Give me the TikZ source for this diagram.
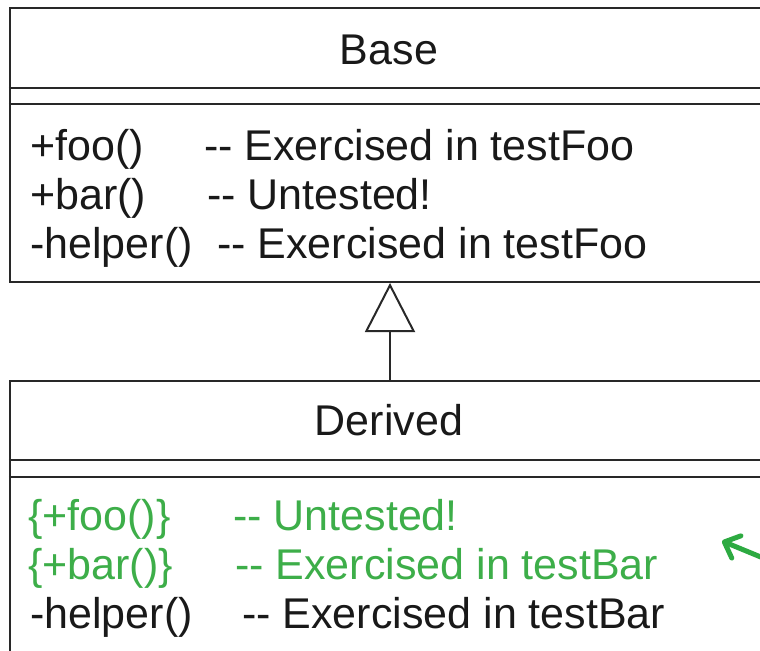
\documentclass[tikz,border=0pt]{standalone}
\usepackage{fontspec}
\setmainfont{Liberation Sans}
\usetikzlibrary{arrows.meta}
\definecolor{linegray}{RGB}{40,40,40}
\definecolor{notegreen}{RGB}{61,174,73}
\definecolor{arrowgreen}{RGB}{45,170,65}
\newcommand{\dashpair}{\mbox{-}\mbox{-}}
\begin{document}
\begin{tikzpicture}[x=1bp,y=-1bp,
  classbox/.style={draw=linegray, line width=2bp, minimum width=760bp, inner sep=0pt},
  boxline/.style={draw=linegray, line width=2bp},
  txt/.style={anchor=base west, inner sep=0pt, font=\fontsize{43bp}{49bp}\selectfont, text=black!90},
  title/.style={anchor=base, inner sep=0pt, font=\fontsize{43bp}{49bp}\selectfont, text=black!90},
  gtxt/.style={txt, text=notegreen},
  inherit/.style={draw=linegray, line width=2bp, -{Triangle[open, width=50bp, length=49bp, line width=2bp]}},
  notearrow/.style={draw=arrowgreen, line width=5bp, line cap=round, -{Straight Barb[length=13bp, width=24bp, line width=5bp, round]}}
]
\useasboundingbox (0,0) rectangle (760,651);
\clip (0,0) rectangle (760,651);
\fill[white] (0,0) rectangle (760,651);
% Base class
\node[classbox, minimum height=274bp] (base) at (390,145) {};
\node[title] (baseTitle) at (389,65) {Base};
\draw[boxline] (base.west |- 0,88) -- (base.east |- 0,88);
\draw[boxline] (base.west |- 0,104) -- (base.east |- 0,104);
\node[txt] (bFoo) at (30,160) {+foo()};
\node[txt] (bFooC) at (204,160) {\dashpair{} Exercised in testFoo};
\node[txt] (bBar) at (30,209) {+bar()};
\node[txt] (bBarC) at (207,209) {\dashpair{} Untested!};
\node[txt] (bHelp) at (30,258) {-helper()};
\node[txt] (bHelpC) at (217,258) {\dashpair{} Exercised in testFoo};
% Derived class
\node[classbox, minimum height=340bp] (derived) at (390,551) {};
\node[title] (derivedTitle) at (389,435) {Derived};
\draw[boxline] (derived.west |- 0,460) -- (derived.east |- 0,460);
\draw[boxline] (derived.west |- 0,477) -- (derived.east |- 0,477);
\node[gtxt] (dFoo) at (28,530) {\{+foo()\}};
\node[gtxt] (dFooC) at (233,530) {\dashpair{} Untested!};
\node[gtxt] (dBar) at (28,579) {\{+bar()\}};
\node[gtxt] (dBarC) at (235,579) {\dashpair{} Exercised in testBar};
\node[txt] (dHelp) at (30,628) {-helper()};
\node[txt] (dHelpC) at (242,628) {\dashpair{} Exercised in testBar};
% Inheritance
\draw[inherit] (derived.north) -- (base.south);
% Note arrow
\coordinate (noteTail) at (768,560);
\coordinate (noteTip) at (722,541);
\draw[notearrow] (noteTail) -- (noteTip);
\end{tikzpicture}
\end{document}
